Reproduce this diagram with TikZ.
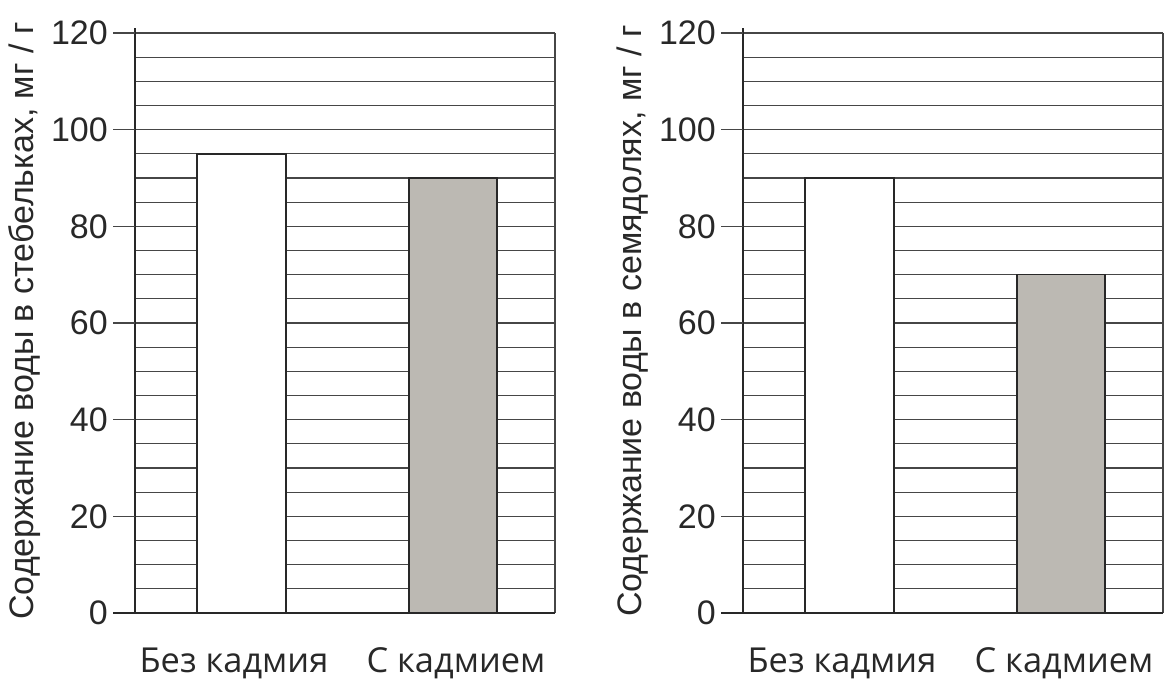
\documentclass[tikz,border=0pt]{standalone}
\usepackage{fontspec}
\setmainfont{Liberation Sans}
\newfontfamily\catfont{Open Sans}
\definecolor{ink}{RGB}{40,40,40}
\definecolor{gridc}{RGB}{70,70,70}
\definecolor{barfill}{RGB}{188,185,179}
\tikzset{
  gridline/.style={draw=gridc, line width=1.3pt},
  axisline/.style={draw=ink, line width=1.6pt},
  barbox/.style={draw=ink, line width=1.6pt},
  ticklbl/.style={anchor=east, inner sep=0pt, text=ink, font=\fontsize{34}{36}\selectfont},
  axtitle/.style={anchor=base, rotate=90, inner sep=0pt, text=ink, font=\fontsize{34}{36}\selectfont},
  catlbl/.style={anchor=base, inner sep=0pt, text=ink, font=\catfont\fontsize{34.4}{38}\selectfont},
}
\newcommand\chartpanel[6]{%
  % #1 prefix, #2 x of axis, #3 title, #4 white value, #5 gray value
  \begin{scope}[shift={(#2,613)}]
    \foreach \v in {5,10,...,120}{
      \draw[gridline] (0,-4.8333*\v) -- (420,-4.8333*\v);
    }
    \draw[barbox, fill=white] (62,0) rectangle (151,-4.8333*#4);
    \draw[barbox, fill=barfill] (274,0) rectangle (362,-4.8333*#5);
    \coordinate (#1top) at (0,-4.8333*121);
    \coordinate (#1org) at (0,0);
    \coordinate (#1rt) at (420,-4.8333*120);
    \coordinate (#1rb) at (420,0);
    \coordinate (#1zl) at (-22,0);
    \draw[axisline] (#1org) -- (#1top);
    \draw[gridline] (#1rb) -- (#1rt);
    \draw[axisline] (#1zl) -- (#1rb);
    \foreach \v in {20,40,...,120}{
      \draw[gridline] (-22,-4.8333*\v) -- (0,-4.8333*\v);
    }
    \foreach \v in {0,20,...,120}{
      \node[ticklbl] (#1n\v) at (-27,-4.8333*\v) {\v};
    }
    \node[axtitle] (#1title) at (-102,-4.8333*60.4) {#3};
    \node[catlbl] (#1catA) at (99,59) {Без кадмия};
    \node[catlbl] (#1catB) at (321,59) {С кадмием};
  \end{scope}
}
\begin{document}
\begin{tikzpicture}[x=1pt,y=-1pt]
  \useasboundingbox[fill=white] (0,0) rectangle (1170,680);
  \chartpanel{L}{135}{Содержание воды в стебельках, мг / г}{95}{90}{}
  \chartpanel{R}{743}{Содержание воды в семядолях, мг / г}{90}{70}{}
\end{tikzpicture}
\end{document}
